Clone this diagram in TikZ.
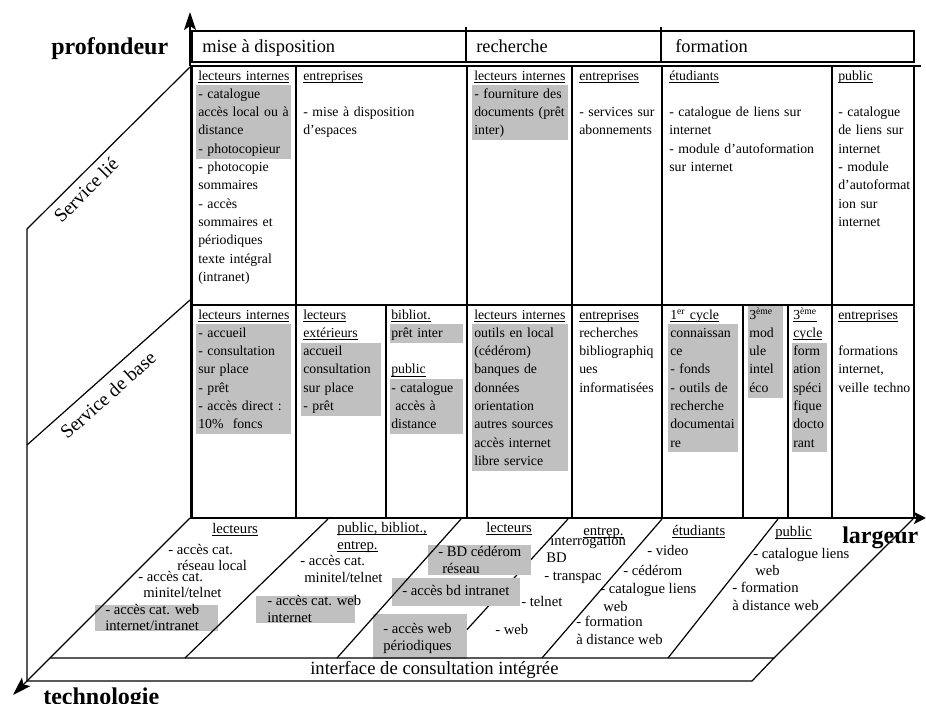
\documentclass[tikz,border=0pt]{standalone}
\usepackage{fontspec}
\setmainfont{Liberation Serif}
\usetikzlibrary{arrows.meta}
\definecolor{boxgray}{RGB}{192,192,192}
\newcommand\ul[1]{\underline{\smash{#1}}}
\newcommand\celltxt{\fontsize{10.35pt}{13.72pt}\selectfont\lineskiplimit=-100pt\relax}
\newcommand\floortxt{\fontsize{11pt}{13pt}\selectfont}
\tikzset{
  cell/.style={anchor=north west, inner sep=0pt, align=left, text width=150pt, font=\celltxt},
  flt/.style={anchor=base west, inner sep=0pt, font=\floortxt},
  gbox/.style={fill=boxgray, draw=none},
  frameline/.style={line width=2pt},
  thinline/.style={line width=1.1pt},
  hdrline/.style={line width=1.4pt},
  floorline/.style={line width=0.9pt},
  axislabel/.style={anchor=base west, inner sep=0pt, font=\fontsize{18pt}{20pt}\selectfont\bfseries},
  hdrtext/.style={anchor=base west, inner sep=0pt, font=\fontsize{13.8pt}{16pt}\selectfont},
  sidetext/.style={inner sep=0pt, font=\fontsize{14.5pt}{16pt}\selectfont},
  bigtip/.style={-{Stealth[length=13.5pt,width=9pt,inset=3pt]}},
}
\begin{document}
\begin{tikzpicture}[x=0.75pt,y=-0.75pt]
\useasboundingbox (0,0) rectangle (926,704);

% ---------- gray boxes in the table ----------
\fill[gbox] (196,85.3) rectangle (291,158.5);
\fill[gbox] (472,85.3) rectangle (568,140.2);
\fill[gbox] (196,324.3) rectangle (291,434.1);
\fill[gbox] (301,342.6) rectangle (381,415.8);
\fill[gbox] (390,324.3) rectangle (463,342.6);
\fill[gbox] (390,379.2) rectangle (463,434.1);
\fill[gbox] (472,324.3) rectangle (568,470.7);
\fill[gbox] (668,324.3) rectangle (738,452.4);
\fill[gbox] (748,306) rectangle (783,397.5);
\fill[gbox] (792,342.6) rectangle (827,452.4);

% ---------- table texts: upper row ----------
\node[cell] (a1) at (198,67) {\strut\ul{lecteurs internes}\\- catalogue\\accès local ou à\\distance\\- photocopieur\\- photocopie\\sommaires\\- accès\\sommaires et\\périodiques\\texte intégral\\(intranet)};
\node[cell] (a2) at (303,67) {\strut\ul{entreprises}\\\mbox{}\\- mise à disposition\\d’espaces};
\node[cell] (a3) at (474,67) {\strut\ul{lecteurs internes}\\- fourniture des\\documents (prêt\\inter)};
\node[cell] (a4) at (579,67) {\strut\ul{entreprises}\\\mbox{}\\- services sur\\abonnements};
\node[cell] (a5) at (669,67) {\strut\ul{étudiants}\\\mbox{}\\- catalogue de liens sur\\internet\\- module d’autoformation\\sur internet};
\node[cell] (a6) at (838,67) {\strut\ul{public}\\\mbox{}\\- catalogue\\de liens sur\\internet\\- module\\d’autoformat\\ion sur\\internet};

% ---------- table texts: lower row ----------
\node[cell] (b1) at (198,306) {\strut\ul{lecteurs internes}\\- accueil\\- consultation\\sur place\\- prêt\\- accès direct :\\10\%~ foncs};
\node[cell] (b2) at (303,306) {\strut\ul{lecteurs}\\\ul{extérieurs}\\accueil\\consultation\\sur place\\- prêt};
\node[cell] (b3) at (391,306) {\strut\ul{bibliot.}\\prêt inter\\\mbox{}\\\ul{public}\\- catalogue\\\hspace*{3pt}accès à\\distance};
\node[cell] (b4) at (474,306) {\strut\ul{lecteurs internes}\\outils en local\\(cédérom)\\banques de\\données\\orientation\\autres sources\\accès internet\\libre service};
\node[cell] (b5) at (579,306) {\strut\ul{entreprises}\\recherches\\bibliographiq\\ues\\informatisées};
\node[cell] (b6) at (670,306) {\strut\ul{1\textsuperscript{er} cycle}\\connaissan\\ce\\- fonds\\- outils de\\recherche\\documentai\\re};
\node[cell] (b7) at (749,306) {\strut 3\textsuperscript{ème}\\mod\\ule\\intel\\éco};
\node[cell] (b8) at (793,306) {\strut\ul{3\textsuperscript{ème}}\\\ul{cycle}\\form\\ation\\spéci\\fique\\docto\\rant};
\node[cell] (b9) at (838,306) {\strut\ul{entreprises}\\\mbox{}\\formations\\internet,\\veille techno};

% ---------- table lines ----------
\draw[thinline] (191,305) -- (914,305);
\draw[thinline] (572,66) -- (572,518);
\draw[thinline] (832,66) -- (832,518);
\draw[thinline] (386,305) -- (386,518);
\draw[thinline] (743,305) -- (743,518);
\draw[thinline] (788,305) -- (788,518);
\draw[frameline] (296,66) -- (296,518);
\draw[frameline] (467,66) -- (467,518);
\draw[frameline] (662,66) -- (662,518);
\draw[frameline] (914,66) -- (914,518);
\draw[frameline] (191.5,66) -- (191.5,518);
\draw[frameline] (190,66) -- (921,66);

% ---------- header ----------
\draw[hdrline] (192,31) rectangle (914,62);
\draw[hdrline] (466,27) -- (466,62);
\draw[hdrline] (661,27) -- (661,62);
\node[hdrtext] (h1) at (202,52) {mise à disposition};
\node[hdrtext] (h2) at (476,52) {recherche};
\node[hdrtext] (h3) at (675,52) {formation};

% ---------- axes ----------
\coordinate (orig) at (190,518);
\coordinate (topend) at (190,12);
\coordinate (rightend) at (926,518);
\coordinate (diagend) at (13,695);
\draw[line width=1pt, bigtip] (190,66) -- (topend);
\draw[frameline, -{Stealth[length=9pt,width=9pt,inset=2pt]}] (orig) -- (rightend);

\node[axislabel] (lprof) at (51,54) {profondeur};
\node[axislabel] (llarg) at (842,543) {largeur};
\node[axislabel] (ltech) at (43,704) {technologie};

% ---------- left side (service levels) ----------
\draw[line width=0.9pt] (27,681) -- (27,229) -- (190,67);
\draw[line width=0.9pt] (27,445) -- (190,300);
\node[sidetext, rotate=45] (sl1) at (86,190) {Service lié};
\node[sidetext, rotate=41.6] (sl2) at (108,395) {Service de base};

% ---------- floor (technology) ----------
\draw[floorline] (568,519) -- (441,658);
\fill[gbox] (95,605) rectangle (218,631);
\fill[gbox] (256,596) rectangle (355,623);
\fill[gbox] (428,545) rectangle (531,575);
\fill[gbox] (392,578) rectangle (520,606);
\fill[gbox] (373,614) rectangle (467,659);
\draw[floorline] (328,519) -- (185,658);
\draw[floorline] (461,519) -- (337,658);
\draw[floorline] (662,519) -- (542,658);
\draw[floorline] (778,519) -- (668,658);
\draw[floorline] (913,519) -- (774,658);
\draw[floorline] (50,658) -- (774,658) -- (752,681) -- (27,681);
\draw[line width=1pt, -{Stealth[length=14pt,width=9pt,inset=3pt]}] (orig) -- (diagend);

\node[anchor=base west, inner sep=0pt, font=\fontsize{14pt}{16pt}\selectfont] (iface) at (310,674) {interface de consultation intégrée};

% section 1
\node[flt] (f1a) at (212,533) {\ul{lecteurs}};
\node[flt] (f1b) at (168,554) {- accès cat.};
\node[flt] (f1c) at (177,570) {réseau local};
\node[flt] (f1d) at (138,581) {- accès cat.};
\node[flt] (f1e) at (143,597) {minitel/telnet};
\node[flt] (f1f) at (105,614) {- accès cat. web};
\node[flt] (f1g) at (105,630) {internet/intranet};
% section 2
\node[flt] (f2a) at (337,532) {\ul{public, bibliot.,}};
\node[flt] (f2b) at (337,549) {\ul{entrep.}};
\node[flt] (f2c) at (300,565) {- accès cat.};
\node[flt] (f2d) at (304,582) {minitel/telnet};
\node[flt] (f2e) at (267,605) {- accès cat. web};
\node[flt] (f2f) at (267,622) {internet};
% section 3
\node[flt] (f3a) at (486,532) {\ul{lecteurs}};
\node[flt] (f3b) at (438,556) {- BD cédérom};
\node[flt] (f3c) at (442,573) {réseau};
\node[flt] (f3d) at (402,595) {- accès bd intranet};
\node[flt] (f3e) at (521,606) {- telnet};
\node[flt] (f3f) at (495,634) {- web};
\node[flt] (f3g) at (383,633) {- accès web};
\node[flt] (f3h) at (383,650) {périodiques};
% section 4
\node[flt] (f4a) at (583,535) {\ul{entrep.}};
\node[flt] (f4b) at (550,545) {interrogation};
\node[flt] (f4c) at (546,562) {BD};
\node[flt] (f4d) at (544,580) {- transpac};
% section 5
\node[flt] (f5a) at (672,535) {\ul{étudiants}};
\node[flt] (f5b) at (647,555) {- video};
\node[flt] (f5c) at (623,575) {- cédérom};
\node[flt] (f5d) at (600,593) {- catalogue liens};
\node[flt] (f5e) at (603,611) {web};
\node[flt] (f5f) at (576,626) {- formation};
\node[flt] (f5g) at (576,644) {à distance web};
% section 6
\node[flt] (f6a) at (775,536) {\ul{public}};
\node[flt] (f6b) at (753,558) {- catalogue liens};
\node[flt] (f6c) at (755,575) {web};
\node[flt] (f6d) at (732,592) {- formation};
\node[flt] (f6e) at (732,610) {à distance web};
\end{tikzpicture}
\end{document}
